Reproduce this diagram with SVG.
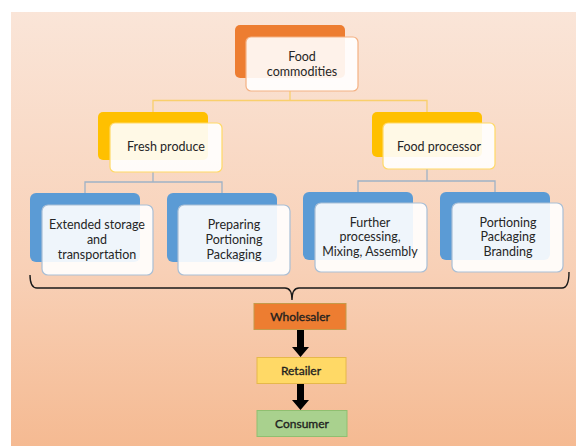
<svg xmlns="http://www.w3.org/2000/svg" width="576" height="446" viewBox="0 0 576 446">
<defs>
<linearGradient id="bg" x1="0" y1="0" x2="0" y2="1">
<stop offset="0" stop-color="#fae5d8"/>
<stop offset="0.6" stop-color="#f8d0b6"/>
<stop offset="1" stop-color="#f5ba92"/>
</linearGradient>
</defs>
<style>
.t{font-family:Lato,"Open Sans","Liberation Sans",sans-serif;font-size:12.5px;fill:#262626;text-anchor:middle}
.s{font-family:Lato,"Open Sans","Liberation Sans",sans-serif;font-size:12px;fill:#1f1f1f;stroke:#1f1f1f;stroke-width:0.35;text-anchor:middle}
.front{fill:#ffffff;fill-opacity:0.9;stroke-width:1.2}
.fo{stroke:#f4b183}
.fy{stroke:#ffd966}
.fb{stroke:#a9bfd6}
.cy{fill:none;stroke:#f9cf6c;stroke-width:1.3}
.cb{fill:none;stroke:#9fb2c6;stroke-width:1.3}
</style>
<rect x="11" y="12" width="565" height="434" fill="url(#bg)"/>

<g id="connectors">
<path class="cy" d="M290,91 V100.5 M153,113 V100.5 H427 V113"/>
<path class="cb" d="M153,172 V182 M85,193 V182 H222 V193"/>
<path class="cb" d="M427,169 V181 M358,192 V181 H495 V192"/>
<path d="M30,275 Q30,288 37,288 H285 Q292,288 292,300 Q292,288 299,288 H562 Q569,288 569,272" fill="none" stroke="#1a1a1a" stroke-width="1.4"/>
<path d="M297,329 H304 V347 H309 L300.5,357 L292,347 H297 Z" fill="#000"/>
<path d="M297,383 H304 V400 H309 L300.5,410 L292,400 H297 Z" fill="#000"/>
</g>

<g id="food-commodities">
<rect x="235" y="25" width="110" height="53" rx="5" fill="#ed7d31"/>
<rect class="front fo" x="246" y="37" width="112" height="54" rx="5"/>
<text class="t" x="302" y="61">Food</text>
<text class="t" x="302" y="76">commodities</text>
</g>

<g id="fresh-produce">
<rect x="98" y="112" width="110" height="48" rx="5" fill="#ffc000"/>
<rect class="front fy" x="110" y="123" width="112" height="49" rx="5"/>
<text class="t" x="166" y="151">Fresh produce</text>
</g>

<g id="food-processor">
<rect x="372" y="112" width="110" height="45" rx="5" fill="#ffc000"/>
<rect class="front fy" x="383" y="123" width="112" height="46" rx="5"/>
<text class="t" x="439" y="151">Food processor</text>
</g>

<g id="extended-storage">
<rect x="30" y="193" width="110" height="69" rx="6" fill="#5b9bd5"/>
<rect class="front fb" x="42" y="205" width="111" height="70" rx="6"/>
<text class="t" x="97" y="229">Extended storage</text>
<text class="t" x="97" y="244">and</text>
<text class="t" x="97" y="259">transportation</text>
</g>

<g id="preparing">
<rect x="167" y="193" width="110" height="69" rx="6" fill="#5b9bd5"/>
<rect class="front fb" x="178" y="205" width="112" height="70" rx="6"/>
<text class="t" x="234" y="229">Preparing</text>
<text class="t" x="234" y="244">Portioning</text>
<text class="t" x="234" y="259">Packaging</text>
</g>

<g id="further-processing">
<rect x="303" y="192" width="110" height="68" rx="6" fill="#5b9bd5"/>
<rect class="front fb" x="315" y="203" width="112" height="69" rx="6"/>
<text class="t" x="370" y="227">Further</text>
<text class="t" x="370" y="241">processing,</text>
<text class="t" x="370" y="256">Mixing, Assembly</text>
</g>

<g id="portioning-branding">
<rect x="440" y="192" width="110" height="68" rx="6" fill="#5b9bd5"/>
<rect class="front fb" x="452" y="203" width="111" height="69" rx="6"/>
<text class="t" x="508" y="227">Portioning</text>
<text class="t" x="508" y="241">Packaging</text>
<text class="t" x="508" y="256">Branding</text>
</g>

<g id="wholesaler">
<rect x="254" y="303.5" width="92" height="26" fill="#ed7d31" stroke="#c49a4a" stroke-width="1"/>
<text class="s" x="300" y="321">Wholesaler</text>
</g>

<g id="retailer">
<rect x="257" y="357.5" width="89" height="26" fill="#ffd966" stroke="#e6b84a" stroke-width="1"/>
<text class="s" x="301" y="375">Retailer</text>
</g>

<g id="consumer">
<rect x="257" y="410.5" width="90" height="26" fill="#a9d18e" stroke="#8fbf70" stroke-width="1"/>
<text class="s" x="302" y="428">Consumer</text>
</g>
</svg>
